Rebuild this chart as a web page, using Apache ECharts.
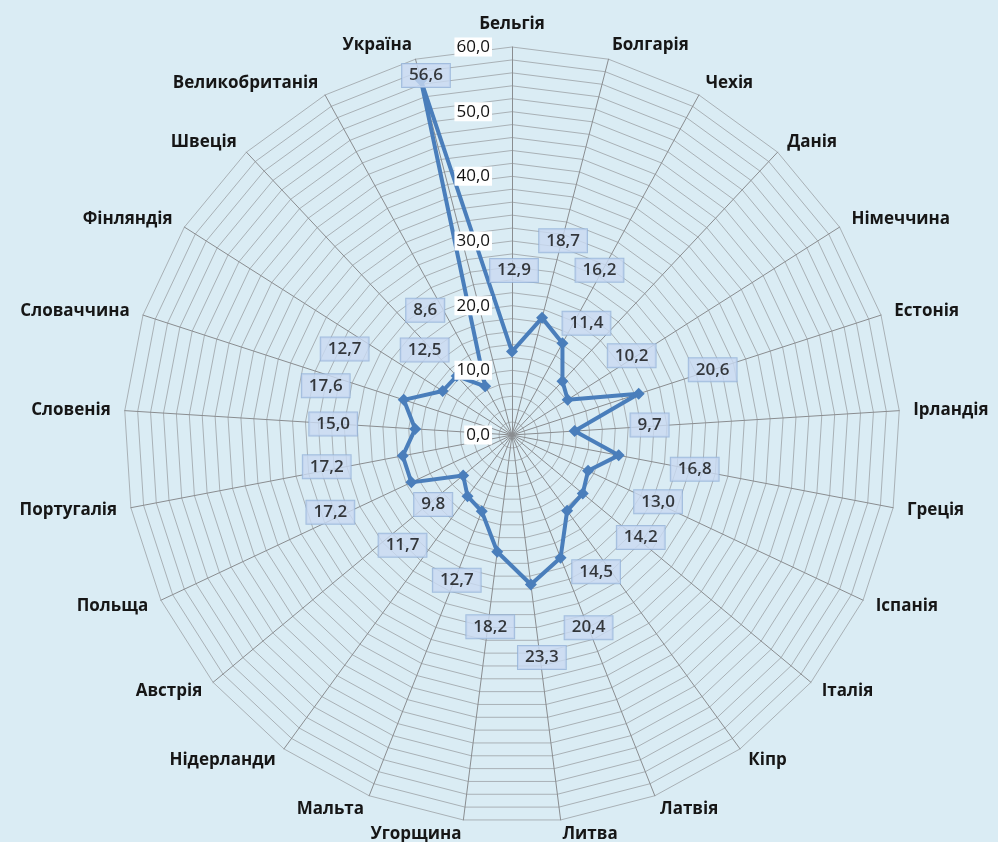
<!DOCTYPE html>
<html>
<head>
<meta charset="utf-8">
<script src="https://cdn.jsdelivr.net/npm/echarts@6/dist/echarts.min.js"></script>
<style>
  html, body { margin: 0; padding: 0; background: #daecf4; }
  #chart { width: 998px; height: 842px; }
</style>
</head>
<body>
<div id="chart"></div>
<script>
// країни за годинниковою стрілкою, починаючи згори
var categories = ['Бельгія', 'Болгарія', 'Чехія', 'Данія', 'Німеччина', 'Естонія', 'Ірландія',
    'Греція', 'Іспанія', 'Італія', 'Кіпр', 'Латвія', 'Литва', 'Угорщина', 'Мальта',
    'Нідерланди', 'Австрія', 'Польща', 'Португалія', 'Словенія', 'Словаччина',
    'Фінляндія', 'Швеція', 'Великобританія', 'Україна'];
var values = [12.9, 18.7, 16.2, 11.4, 10.2, 20.6, 9.7, 16.8, 13.0, 14.2, 14.5, 20.4, 23.3,
    18.2, 12.7, 11.7, 9.8, 17.2, 17.2, 15.0, 17.6, 12.7, 12.5, 8.6, 56.6];
var axisMax = 60;

// зсув підписів даних (як у вихідній діаграмі)
var labelOffsets = [[2, -81], [21, -77], [37, -73], [24, -58], [64, -44], [74, -24], [75, -6],
    [76, 14], [70, 31], [58, 44], [29, 61], [28, 70], [11, 73], [-7, 75], [-25, 69],
    [-65, 49], [-30, 29], [-81, 30], [-76, 11], [-82, -5], [-78, -14], [-98, -42],
    [-32, -26], [-60, -76], [5, -5]];

function fmt(v) {
    return Number(v).toFixed(1).replace('.', ',');
}

// радар в ECharts іде проти годинникової стрілки, тому перевертаємо порядок
var n = categories.length;
var order = categories.map(function (c, i) { return i === 0 ? 0 : n - i; });

var center = [512, 435];
var radius = 388;
var font = 'Open Sans';

var gridIndicator = order.map(function (i) {
    return {name: categories[i], min: 0, max: axisMax};
});
var labelIndicator = order.map(function (i, k) {
    var ind = {name: categories[i], min: 0, max: axisMax};
    if (k === 0) {
        ind.axisLabel = {show: true};
    }
    return ind;
});

var chart = echarts.init(document.getElementById('chart'));
var option = {
    backgroundColor: '#daecf4',
    animation: false,
    radar: [{
        center: center,
        radius: radius,
        startAngle: 90,
        shape: 'polygon',
        splitNumber: 30,
        indicator: gridIndicator,
        axisNameGap: 14,
        axisName: {
            color: '#161616',
            fontFamily: font,
            fontWeight: 'bold',
            fontSize: 17
        },
        axisLine: {lineStyle: {color: '#8a8d90', width: 1}},
        splitLine: {lineStyle: {color: '#a9b1b6', width: 1}},
        splitArea: {show: false},
        axisLabel: {show: false}
    }, {
        center: center,
        radius: radius,
        startAngle: 90,
        shape: 'polygon',
        splitNumber: 6,
        z: 5,
        indicator: labelIndicator,
        axisName: {show: false},
        axisLine: {show: false},
        splitLine: {show: false},
        splitArea: {show: false},
        axisTick: {show: false},
        axisLabel: {
            show: false,
            margin: 20,
            color: '#111',
            fontFamily: font,
            fontSize: 17,
            backgroundColor: '#ffffff',
            padding: [1, 2],
            formatter: function (v) { return fmt(v); }
        }
    }],
    polar: {
        center: center,
        radius: radius
    },
    angleAxis: {
        type: 'category',
        data: categories,
        startAngle: 90,
        clockwise: true,
        boundaryGap: false,
        axisLine: {show: false},
        axisTick: {show: false},
        axisLabel: {show: false},
        splitLine: {show: false}
    },
    radiusAxis: {
        min: 0,
        max: axisMax,
        axisLine: {show: false},
        axisTick: {show: false},
        axisLabel: {show: false},
        splitLine: {show: false}
    },
    series: [{
        type: 'radar',
        radarIndex: 0,
        z: 2,
        symbol: 'diamond',
        symbolSize: 12,
        lineStyle: {color: '#4a7ebb', width: 4},
        itemStyle: {color: '#4a7ebb'},
        data: [{value: order.map(function (i) { return values[i]; })}]
    }, {
        type: 'scatter',
        coordinateSystem: 'polar',
        z: 6,
        symbolSize: 0,
        silent: true,
        label: {
            show: true,
            position: 'inside',
            color: '#0d0d0d',
            fontFamily: font,
            fontWeight: 600,
            fontSize: 17,
            backgroundColor: '#c9daf1',
            borderColor: '#93b1d8',
            borderWidth: 1,
            padding: [3, 7],
            formatter: function (p) { return fmt(p.value[0]); }
        },
        data: values.map(function (v, i) {
            return {value: [v, categories[i]], label: {offset: labelOffsets[i]}};
        })
    }]
};
chart.setOption(option);
</script>
</body>
</html>
